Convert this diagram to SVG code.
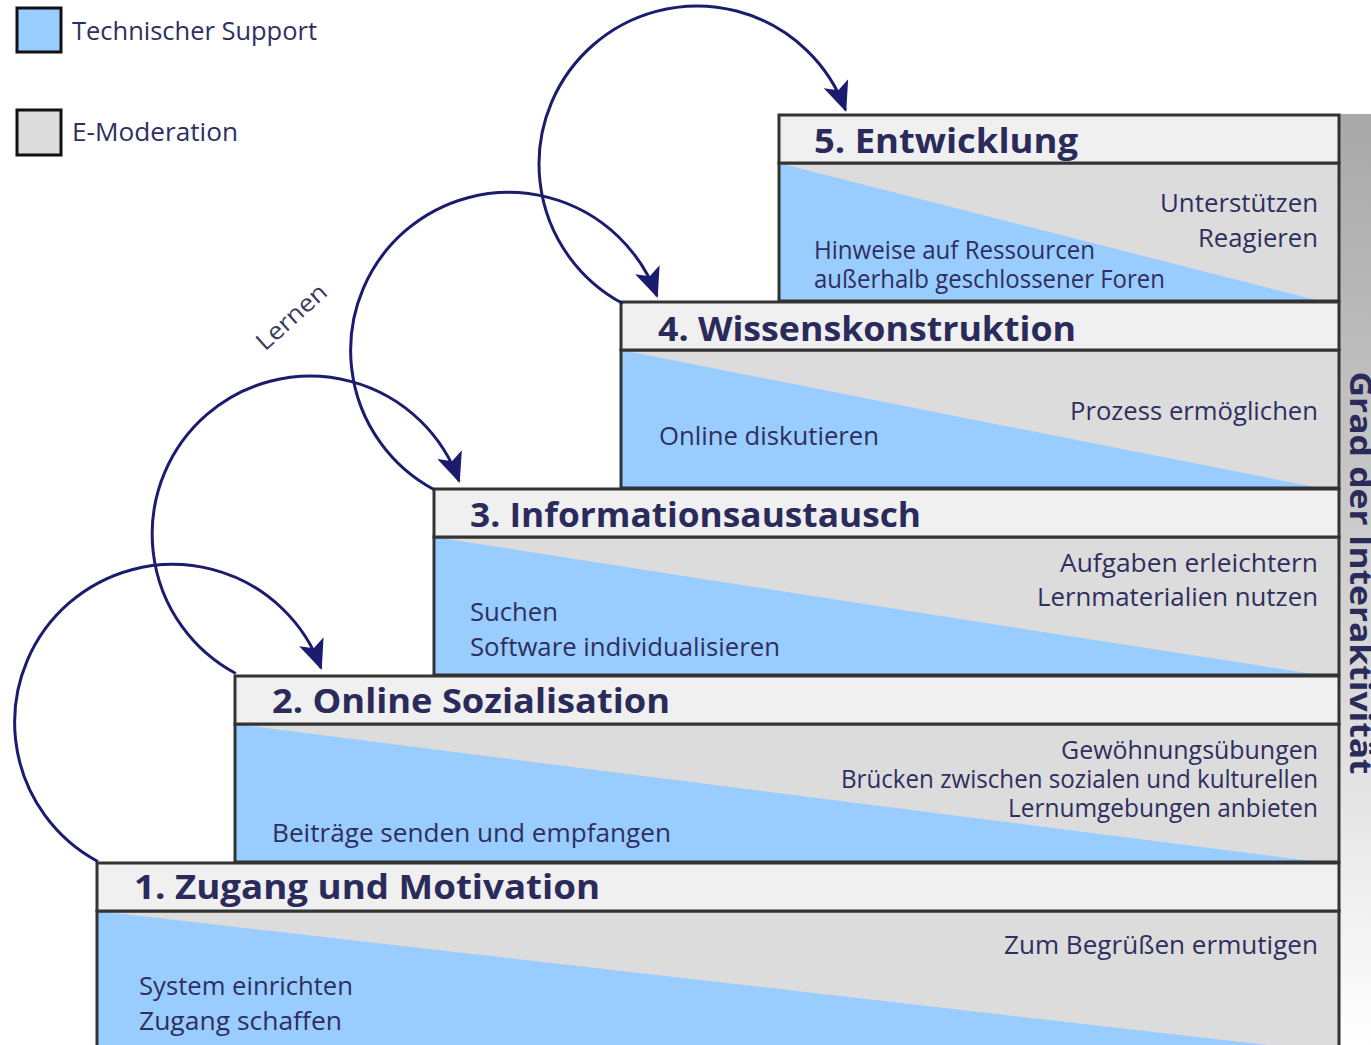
<svg xmlns="http://www.w3.org/2000/svg" width="1371" height="1045" viewBox="0 0 1371 1045">
<defs>
<linearGradient id="barGrad" x1="0" y1="0" x2="0" y2="1">
<stop offset="0" stop-color="#a8a8a8"/>
<stop offset="0.6" stop-color="#d8d8d8"/>
<stop offset="1" stop-color="#ffffff"/>
</linearGradient>
<marker id="ah" markerUnits="userSpaceOnUse" markerWidth="30" markerHeight="26" viewBox="0 0 30 26" refX="28" refY="13" orient="auto">
<path d="M0,0 L30,13 L0,26 L7,13 Z" fill="#1c1c6e"/>
</marker>
</defs>
<style>
.hdr{fill:#f0f0f0;stroke:#333;stroke-width:3}
.body{fill:#dcdcdc;stroke:none}
.blue{fill:#99ccff;stroke:none}
.frame{fill:none;stroke:#333;stroke-width:3}
.title{font-family:"Open Sans","Noto Sans",sans-serif;font-weight:bold;font-size:34px;fill:#2b2b5b}
.txt{font-family:"Open Sans","Noto Sans",sans-serif;font-size:26px;fill:#2f2f5f}
.r{text-anchor:end}
.arc{fill:none;stroke:#1c1c6e;stroke-width:3;marker-end:url(#ah)}
.leg{stroke:#111;stroke-width:3}
</style>
<rect x="0" y="0" width="1371" height="1045" fill="#ffffff"/>

<g id="bar">
<rect x="1340" y="114" width="31" height="931" fill="url(#barGrad)"/>
<text transform="translate(1350,573) rotate(90)" text-anchor="middle" font-family="Open Sans, Noto Sans, sans-serif" font-weight="bold" font-size="31" fill="#2b2b5b" textLength="403" lengthAdjust="spacingAndGlyphs">Grad der Interaktivität</text>
</g>

<g id="legend">
<rect class="leg" x="17" y="8" width="44" height="44" fill="#99ccff"/>
<text class="txt" x="72" y="40" textLength="245" lengthAdjust="spacingAndGlyphs">Technischer Support</text>
<rect class="leg" x="17" y="110" width="44" height="45" fill="#dcdcdc"/>
<text class="txt" x="72" y="141" textLength="166" lengthAdjust="spacingAndGlyphs">E-Moderation</text>
</g>

<g id="step5">
<rect class="body" x="779" y="163" width="560" height="138"/>
<polygon class="blue" points="779,163 779,301 1320,301"/>
<rect class="frame" x="779" y="163" width="560" height="138"/>
<rect class="hdr" x="779" y="115" width="560" height="48"/>
<text class="title" x="814" y="153" textLength="264" lengthAdjust="spacingAndGlyphs">5. Entwicklung</text>
<text class="txt r" x="1318" y="212" textLength="158" lengthAdjust="spacingAndGlyphs">Unterstützen</text>
<text class="txt r" x="1318" y="247" textLength="120" lengthAdjust="spacingAndGlyphs">Reagieren</text>
<text class="txt" x="814" y="259" textLength="281" lengthAdjust="spacingAndGlyphs">Hinweise auf Ressourcen</text>
<text class="txt" x="814" y="288" textLength="351" lengthAdjust="spacingAndGlyphs">außerhalb geschlossener Foren</text>
</g>

<g id="step4">
<rect class="body" x="621" y="350" width="718" height="138"/>
<polygon class="blue" points="621,350 621,488 1320,488"/>
<rect class="frame" x="621" y="350" width="718" height="138"/>
<rect class="hdr" x="621" y="302" width="718" height="48"/>
<text class="title" x="658" y="341" textLength="418" lengthAdjust="spacingAndGlyphs">4. Wissenskonstruktion</text>
<text class="txt r" x="1318" y="420" textLength="248" lengthAdjust="spacingAndGlyphs">Prozess ermöglichen</text>
<text class="txt" x="659" y="445" textLength="220" lengthAdjust="spacingAndGlyphs">Online diskutieren</text>
</g>

<g id="step3">
<rect class="body" x="434" y="537" width="905" height="138"/>
<polygon class="blue" points="434,537 434,675 1320,675"/>
<rect class="frame" x="434" y="537" width="905" height="138"/>
<rect class="hdr" x="434" y="489" width="905" height="48"/>
<text class="title" x="470" y="527" textLength="451" lengthAdjust="spacingAndGlyphs">3. Informationsaustausch</text>
<text class="txt r" x="1318" y="572" textLength="258" lengthAdjust="spacingAndGlyphs">Aufgaben erleichtern</text>
<text class="txt r" x="1318" y="606" textLength="281" lengthAdjust="spacingAndGlyphs">Lernmaterialien nutzen</text>
<text class="txt" x="470" y="621" textLength="88" lengthAdjust="spacingAndGlyphs">Suchen</text>
<text class="txt" x="470" y="656" textLength="310" lengthAdjust="spacingAndGlyphs">Software individualisieren</text>
</g>

<g id="step2">
<rect class="body" x="235" y="724" width="1104" height="138"/>
<polygon class="blue" points="235,724 235,862 1320,862"/>
<rect class="frame" x="235" y="724" width="1104" height="138"/>
<rect class="hdr" x="235" y="676" width="1104" height="48"/>
<text class="title" x="272" y="713" textLength="398" lengthAdjust="spacingAndGlyphs">2. Online Sozialisation</text>
<text class="txt r" x="1318" y="759" textLength="257" lengthAdjust="spacingAndGlyphs">Gewöhnungsübungen</text>
<text class="txt r" x="1318" y="788" textLength="477" lengthAdjust="spacingAndGlyphs">Brücken zwischen sozialen und kulturellen</text>
<text class="txt r" x="1318" y="817" textLength="310" lengthAdjust="spacingAndGlyphs">Lernumgebungen anbieten</text>
<text class="txt" x="272" y="842" textLength="399" lengthAdjust="spacingAndGlyphs">Beiträge senden und empfangen</text>
</g>

<g id="step1">
<rect class="body" x="97" y="911" width="1242" height="140"/>
<polygon class="blue" points="97,911 97,1051 1320,1051"/>
<rect class="frame" x="97" y="911" width="1242" height="140"/>
<rect class="hdr" x="97" y="863" width="1242" height="48"/>
<text class="title" x="134" y="899" textLength="466" lengthAdjust="spacingAndGlyphs">1. Zugang und Motivation</text>
<text class="txt r" x="1318" y="954" textLength="314" lengthAdjust="spacingAndGlyphs">Zum Begrüßen ermutigen</text>
<text class="txt" x="139" y="995" textLength="214" lengthAdjust="spacingAndGlyphs">System einrichten</text>
<text class="txt" x="139" y="1030" textLength="203" lengthAdjust="spacingAndGlyphs">Zugang schaffen</text>
</g>

<g id="connectors">
<path class="arc" d="M97.8,861.5 A158,158 0 1 1 321,668"/>
<path class="arc" d="M235.8,673.5 A158,158 0 1 1 459,481"/>
<path class="arc" d="M433.8,489.5 A158,158 0 1 1 657,296"/>
<path class="arc" d="M622.8,303.5 A158,158 0 1 1 845.5,110"/>
</g>

<g id="label-lernen">
<text transform="translate(297,323) rotate(-42)" text-anchor="middle" font-family="Open Sans, Noto Sans, sans-serif" font-size="24" fill="#3a3a60" textLength="86" lengthAdjust="spacingAndGlyphs">Lernen</text>
</g>
</svg>
